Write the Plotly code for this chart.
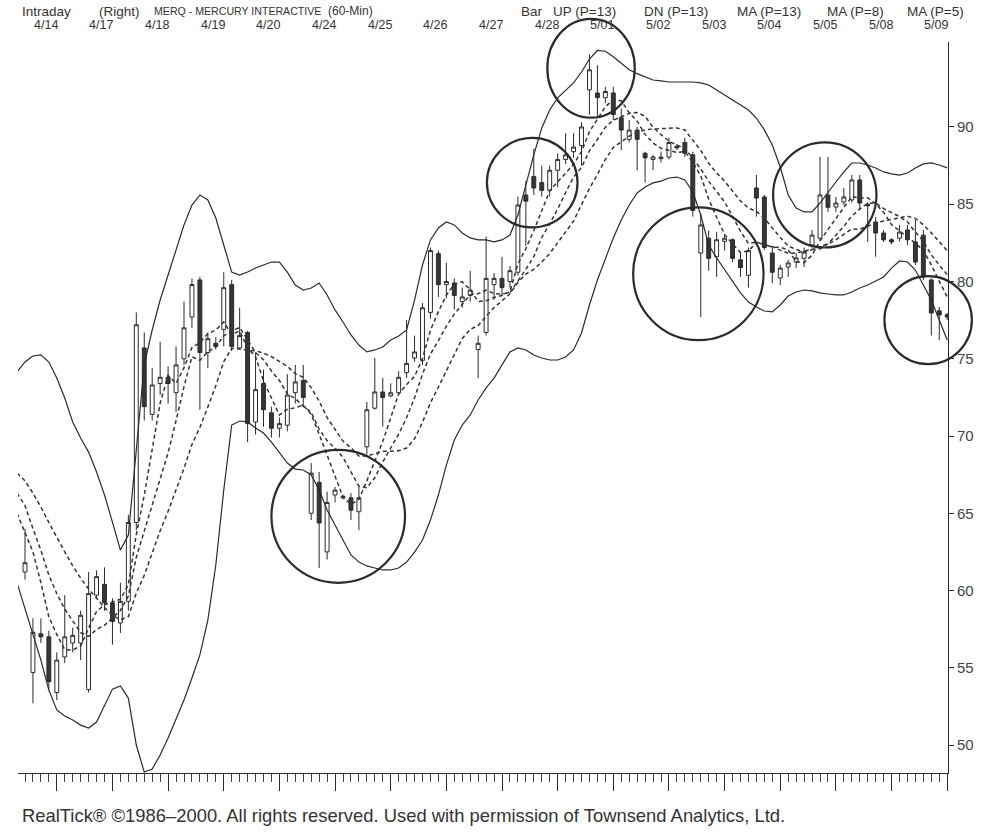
import plotly.graph_objects as go

# ---------------- data ----------------
bars = list(range(117))
opens = [61.2, 54.7, 57.2, 57.0, 53.4, 55.7, 56.6, 56.6, 53.6, 59.7,
         60.4, 59.2, 57.9, 59.3, 64.4, 75.7, 71.4, 73.4, 73.8, 72.8,
         75.0, 77.7, 80.1, 75.4, 76.0, 76.9, 79.8, 75.7, 76.7, 70.9,
         73.4, 71.5, 70.5, 70.7, 72.8, 73.6, 65.0, 67.0, 62.5, 66.18,
         66.0, 66.0, 65.1, 69.3, 71.8, 72.85, 72.6, 72.8, 74.1, 75.05,
         74.9, 78.0, 81.8, 79.8, 79.9, 78.7, 79.1, 75.6, 76.7, 79.8,
         80.2, 80.0, 80.6, 85.6, 86.8, 86.4, 85.9, 87.2, 87.9, 88.4,
         88.8, 92.4, 92.2, 91.9, 92.2, 90.6, 89.2, 89.8, 88.3, 87.9,
         87.95, 88.06, 88.75, 89.0, 88.2, 81.84, 82.8, 81.6, 82.6, 82.7,
         81.4, 80.4, 86.05, 85.47, 81.84, 80.23, 80.94, 81.26, 81.5, 82.36,
         82.8, 85.6, 84.82, 85.15, 85.28, 86.57, 85.0, 83.85, 83.14, 82.7,
         82.8, 83.33, 82.56, 83.0, 80.1, 78.1, 77.85]
highs = [64.0, 58.2, 58.2, 57.4, 56.0, 59.7, 57.6, 58.7, 61.2, 61.3,
         61.5, 59.5, 60.5, 64.9, 78.0, 76.7, 74.4, 76.1, 74.5, 75.8,
         78.7, 80.2, 80.3, 76.7, 76.4, 80.6, 80.1, 78.3, 76.8, 75.4,
         74.3, 71.9, 71.2, 74.0, 74.6, 74.6, 68.25, 67.67, 66.4, 66.7,
         66.2, 66.3, 66.7, 72.2, 75.05, 73.75, 73.4, 74.2, 77.5, 76.5,
         78.6, 82.2, 82.0, 81.2, 80.2, 79.6, 80.7, 76.5, 82.9, 80.55,
         81.6, 81.0, 85.5, 86.5, 88.6, 87.5, 87.5, 88.3, 89.6, 89.6,
         90.3, 94.7, 94.0, 92.6, 92.6, 91.2, 90.45, 90.0, 88.4, 88.2,
         88.4, 89.3, 88.9, 89.3, 88.4, 84.4, 83.3, 83.2, 83.0, 82.8,
         81.9, 82.2, 86.9, 85.6, 82.2, 81.07, 81.4, 81.84, 82.2, 83.33,
         88.06, 88.06, 85.47, 86.05, 86.9, 86.9, 85.15, 84.17, 83.33, 82.8,
         83.66, 83.66, 84.0, 83.33, 80.2, 78.35, 77.96]
lows = [60.7, 52.7, 56.6, 53.6, 52.9, 55.3, 56.0, 55.5, 53.4, 59.5,
        58.7, 56.5, 57.25, 58.7, 63.9, 71.0, 71.0, 72.65, 72.1, 71.55,
        74.6, 77.0, 71.7, 74.4, 75.6, 75.8, 75.5, 75.6, 69.6, 70.1,
        70.6, 69.9, 69.9, 70.3, 72.1, 71.9, 64.56, 61.45, 62.0, 65.7,
        65.9, 64.56, 63.9, 68.8, 71.7, 70.6, 72.5, 72.6, 73.75, 74.8,
        74.6, 77.6, 79.0, 78.9, 78.2, 78.3, 78.7, 73.75, 76.5, 78.8,
        79.1, 79.6, 80.4, 82.3, 85.6, 85.5, 85.5, 86.1, 87.6, 88.0,
        87.5, 90.8, 90.6, 91.55, 90.45, 88.5, 89.0, 87.2, 86.4, 87.2,
        87.7, 87.9, 88.5, 88.06, 84.2, 77.7, 80.7, 80.3, 82.0, 81.26,
        80.3, 79.6, 84.2, 82.04, 79.9, 79.77, 80.3, 80.87, 80.94, 82.2,
        82.7, 84.5, 84.5, 84.95, 85.1, 84.63, 82.56, 81.6, 82.56, 82.4,
        82.6, 82.36, 81.07, 80.1, 76.5, 76.2, 77.5]
closes = [61.8, 57.3, 57.0, 54.1, 55.5, 57.0, 57.1, 58.4, 59.8, 60.9,
          59.2, 58.0, 59.3, 64.4, 77.2, 71.9, 73.3, 73.8, 73.4, 74.6,
          77.0, 79.8, 75.4, 76.3, 75.8, 79.6, 75.8, 76.5, 70.8, 73.0,
          71.7, 70.5, 70.8, 72.65, 73.5, 72.5, 67.6, 64.37, 65.7, 66.5,
          66.1, 65.2, 66.0, 71.7, 72.85, 72.5, 72.8, 73.8, 74.7, 75.44,
          78.3, 82.0, 79.8, 80.0, 79.1, 79.0, 79.45, 76.0, 80.2, 80.2,
          79.6, 80.7, 84.95, 85.2, 86.05, 85.9, 87.2, 87.9, 88.2, 88.7,
          90.0, 93.7, 91.9, 92.3, 90.8, 89.8, 89.8, 89.2, 88.0, 88.06,
          88.05, 89.0, 88.65, 88.3, 84.6, 83.66, 81.5, 82.7, 82.8, 81.5,
          80.9, 82.0, 85.4, 82.2, 80.6, 80.87, 81.2, 81.52, 81.9, 83.0,
          85.6, 84.8, 85.08, 85.47, 86.57, 85.08, 84.9, 83.14, 82.7, 82.56,
          83.2, 82.7, 81.26, 80.3, 77.96, 77.83, 77.7]

ind_bars = list(range(-1, 117))
up_band = [74.14, 74.79, 75.18, 75.25, 74.79, 73.75, 72.46, 70.91, 69.87, 68.96,
           67.67, 66.18, 64.43, 62.62, 63.59, 69.09, 74.60, 76.86, 78.80, 80.42,
           82.04, 83.66, 84.95, 85.60, 85.28, 84.11, 82.36, 80.61, 80.42, 80.61,
           80.87, 81.07, 81.26, 81.26, 80.61, 79.77, 79.45, 79.58, 79.90, 79.13,
           78.16, 77.38, 76.54, 75.89, 75.44, 75.57, 75.76, 76.21, 76.47, 76.86,
           78.80, 81.07, 82.69, 83.46, 83.85, 83.66, 83.14, 82.82, 82.69, 82.69,
           82.56, 82.69, 83.01, 84.30, 86.25, 88.19, 89.94, 91.10, 91.88, 92.39,
           92.85, 93.56, 94.40, 94.95, 94.90, 94.55, 94.10, 93.70, 93.45, 93.24,
           93.04, 92.98, 92.91, 92.91, 92.91, 92.91, 92.85, 92.72, 92.39, 92.07,
           91.75, 91.42, 91.10, 90.58, 89.81, 88.83, 87.41, 85.60, 84.76, 84.50,
           84.50, 85.08, 85.79, 86.44, 87.09, 87.67, 87.67, 87.54, 87.35, 87.09,
           86.96, 86.89, 87.02, 87.35, 87.61, 87.67, 87.54, 87.35]
dn_band = [60.49, 58.87, 57.25, 55.50, 53.56, 52.27, 51.88, 51.62, 51.29, 51.10,
           51.49, 52.59, 53.62, 53.82, 53.04, 50.00, 48.25, 48.45, 49.35, 50.45,
           51.62, 52.91, 54.34, 55.83, 58.09, 61.65, 66.50, 70.71, 70.97, 70.91,
           70.52, 70.19, 69.61, 68.96, 68.25, 67.86, 67.80, 67.48, 66.50, 65.21,
           64.24, 63.27, 62.30, 61.84, 61.59, 61.46, 61.33, 61.33, 61.46, 61.84,
           62.49, 63.27, 64.56, 66.18, 68.12, 69.74, 70.71, 71.36, 72.33, 73.11,
           73.75, 74.60, 75.44, 75.70, 75.57, 75.24, 75.05, 74.92, 74.92, 75.11,
           75.57, 76.67, 78.48, 80.10, 81.52, 82.82, 83.98, 84.95, 85.73, 86.12,
           86.38, 86.50, 86.70, 86.76, 86.57, 85.79, 84.30, 82.36, 81.52, 80.74,
           79.97, 79.26, 78.67, 78.35, 78.09, 78.03, 78.48, 79.06, 79.32, 79.45,
           79.39, 79.26, 79.19, 79.13, 79.13, 79.32, 79.58, 79.77, 80.03, 80.29,
           80.87, 81.33, 81.26, 80.74, 79.77, 78.80, 77.51, 76.21]
ma13 = [67.6, 67.1, 66.3, 65.4, 64.4, 63.4, 62.5, 61.6, 60.8, 60.1, 59.5, 58.9, 58.4,
        58.11, 58.31, 59.84, 60.98, 62.46, 63.87, 65.13, 66.48, 67.91, 69.45,
        70.56, 71.88, 73.25, 74.81, 75.68, 75.63, 75.55, 75.52, 75.36, 75.14,
        74.85, 74.51, 74.03, 73.80, 73.13, 72.26, 71.19, 70.47, 69.67, 69.24,
        68.70, 68.70, 68.88, 69.01, 69.02, 69.05, 69.22, 69.82, 70.89, 72.15,
        73.17, 74.24, 75.31, 76.31, 76.90, 77.15, 77.74, 78.31, 78.75, 79.21,
        79.95, 80.48, 80.79, 81.26, 81.81, 82.49, 83.20, 83.91, 84.98, 86.02,
        86.92, 87.90, 88.68, 89.05, 89.40, 89.65, 89.81, 89.87, 89.89, 89.95,
        89.94, 89.81, 89.11, 88.48, 87.65, 87.02, 86.49, 85.85, 85.21, 84.75,
        84.54, 84.09, 83.45, 82.85, 82.30, 82.07, 81.93, 82.05, 82.27, 82.42,
        82.70, 83.05, 83.40, 83.38, 83.58, 83.78, 83.92, 84.02, 84.15, 84.22,
        84.08, 83.67, 83.15, 82.59, 81.99]
ma8 = [66.3, 65.5, 64.0, 62.6, 61.0, 59.8, 58.8, 58.0,
       57.28, 57.03, 57.48, 57.75, 58.24, 58.71, 59.64, 62.15, 63.84, 65.53,
       67.14, 68.91, 70.99, 73.20, 75.13, 74.90, 75.45, 75.76, 76.49, 76.79,
       77.03, 76.25, 75.40, 74.94, 74.21, 73.59, 72.72, 72.43, 71.93, 71.53,
       70.45, 69.70, 69.20, 68.62, 67.68, 66.75, 66.65, 67.30, 68.32, 69.21,
       70.12, 71.19, 72.47, 74.01, 75.30, 76.17, 77.11, 77.89, 78.54, 79.14,
       79.21, 79.44, 79.22, 79.19, 79.28, 80.01, 80.79, 81.61, 82.85, 83.73,
       84.69, 85.76, 86.76, 87.39, 88.46, 89.19, 89.99, 90.44, 90.68, 90.88,
       90.94, 90.69, 89.98, 89.50, 89.09, 88.82, 88.63, 87.98, 87.29, 86.48,
       85.81, 85.15, 84.21, 83.25, 82.46, 82.56, 82.38, 82.26, 82.03, 81.83,
       81.84, 81.96, 82.09, 82.11, 82.44, 83.00, 83.57, 84.24, 84.69, 85.06,
       85.08, 84.72, 84.44, 84.20, 83.86, 83.19, 82.60, 81.73, 81.06, 80.44]
ma5 = [65.0, 63.8, 62.5, 60.5, 58.3,
       57.14, 56.18, 56.14, 56.42, 57.56, 58.64, 59.08, 59.26, 59.44, 60.36,
       63.62, 66.16, 69.22, 72.12, 73.92, 73.40, 74.42, 75.72, 76.04, 76.62,
       76.86, 77.38, 76.58, 76.80, 75.70, 75.14, 73.56, 72.50, 71.36, 71.73,
       71.83, 71.99, 71.41, 70.12, 68.73, 67.33, 66.05, 65.57, 65.90, 67.10,
       68.37, 69.65, 71.17, 72.73, 73.33, 73.85, 75.01, 76.85, 78.05, 79.11,
       79.84, 79.98, 79.47, 78.71, 78.75, 78.97, 79.09, 79.34, 81.13, 82.13,
       83.30, 84.56, 85.86, 86.45, 87.05, 87.58, 88.40, 89.70, 90.50, 91.32,
       91.74, 91.70, 90.92, 90.38, 89.52, 88.97, 88.62, 88.46, 88.35, 88.41,
       87.72, 86.84, 85.34, 84.15, 83.05, 82.43, 81.88, 81.98, 82.52, 82.40,
       82.22, 82.21, 82.05, 81.28, 81.22, 81.70, 82.64, 83.36, 84.08, 84.79,
       85.50, 85.40, 85.42, 85.03, 84.48, 83.68, 83.30, 82.86, 82.48, 82.00,
       81.08, 80.01, 79.01]

date_labels = ["4/14", "4/17", "4/18", "4/19", "4/20", "4/24", "4/25", "4/26", "4/27",
               "4/28", "5/01", "5/02", "5/03", "5/04", "5/05", "5/08", "5/09"]
day_mark_bars = [4, 11, 18, 25, 32, 39, 46, 53, 60, 67, 74, 81, 88, 95, 102, 109, 116]
y_ticks = [50, 55, 60, 65, 70, 75, 80, 85, 90]

# circles drawn on the chart: (centre bar, centre price, radius in bars, radius in price)
circles = [(39.4, 64.8, 8.4, 4.3),
           (63.8, 86.4, 5.7, 2.9),
           (71.2, 93.8, 5.5, 3.2),
           (84.7, 80.5, 8.2, 4.3),
           (100.6, 85.6, 6.5, 3.4),
           (113.6, 77.5, 5.5, 2.85)]

# ---------------- figure ----------------
X_RANGE = [-0.88, 116.1]
Y_RANGE = [48.19, 95.5]
W, H = 988, 835
ML, MR, MT, MB = 18, 40, 42, 62
PW, PH = W - ML - MR, H - MT - MB

def px_x(page_x):
    return (page_x - ML) / PW

def px_y(page_y):
    return (H - MB - page_y) / PH

def dx(k):
    return (k - X_RANGE[0]) / (X_RANGE[1] - X_RANGE[0])

def dy(p):
    return (p - Y_RANGE[0]) / (Y_RANGE[1] - Y_RANGE[0])

INK = "#2b2b2b"
fig = go.Figure()
for vals in (up_band, dn_band):
    fig.add_trace(go.Scatter(x=ind_bars, y=vals, mode="lines",
                             line=dict(color=INK, width=1.2),
                             hoverinfo="skip", showlegend=False))
for vals in (ma13, ma8, ma5):
    fig.add_trace(go.Scatter(x=ind_bars, y=vals, mode="lines",
                             line=dict(color="#353535", width=1.5, dash="4px,3px"),
                             hoverinfo="skip", showlegend=False))
fig.add_trace(go.Candlestick(
    x=bars, open=opens, high=highs, low=lows, close=closes,
    increasing=dict(line=dict(color=INK, width=1), fillcolor="#ffffff"),
    decreasing=dict(line=dict(color=INK, width=1), fillcolor="#363636"),
    whiskerwidth=0, showlegend=False))

shapes = []
for ck, cp, rk, rp in circles:
    shapes.append(dict(type="circle", xref="paper", yref="paper",
                       x0=dx(ck - rk), x1=dx(ck + rk), y0=dy(cp - rp), y1=dy(cp + rp),
                       line=dict(color=INK, width=2.2), layer="above"))

FAM = "Liberation Sans, Arial, sans-serif"
annotations = []
header = [("Intraday", 20, 13.5), ("(Right)", 97, 13.5),
          ("MERQ - MERCURY INTERACTIVE", 152, 10.6), ("(60-Min)", 326, 12.0),
          ("Bar", 519, 13.5), ("UP (P=13)", 551, 13.5), ("DN (P=13)", 642, 13.5),
          ("MA (P=13)", 735, 13.5), ("MA (P=8)", 825, 13.5), ("MA (P=5)", 905, 13.5)]
for txt, x, sz in header:
    annotations.append(dict(text=txt, x=px_x(x), y=px_y(11), xref="paper", yref="paper",
                            xanchor="left", yanchor="middle", showarrow=False,
                            font=dict(family=FAM, size=sz, color="#333333")))
for lab, b in zip(date_labels, day_mark_bars):
    annotations.append(dict(text=lab, x=b, y=px_y(25), xref="x", yref="paper",
                            xanchor="right", yanchor="middle", xshift=3,
                            showarrow=False, font=dict(family=FAM, size=12.5, color="#333333")))
annotations.append(dict(
    text="RealTick\u00ae \u00a91986\u20132000. All rights reserved. Used with permission of Townsend Analytics, Ltd.",
    x=px_x(20), y=px_y(815), xref="paper", yref="paper", xanchor="left", yanchor="middle",
    showarrow=False, font=dict(family=FAM, size=18.4, color="#333333")))

fig.update_layout(
    width=W, height=H, margin=dict(l=ML, r=MR, t=MT, b=MB, pad=0),
    paper_bgcolor="white", plot_bgcolor="white",
    shapes=shapes, annotations=annotations, showlegend=False,
    xaxis=dict(range=X_RANGE, showgrid=False, zeroline=False, showline=True,
               linecolor=INK, linewidth=1, ticks="outside", tickmode="linear",
               tick0=4, dtick=7, ticklen=17, tickwidth=1, tickcolor=INK,
               showticklabels=False, rangeslider=dict(visible=False),
               minor=dict(ticks="outside", tickmode="linear", tick0=0, dtick=1,
                          ticklen=8, tickwidth=1, tickcolor="#444444", showgrid=False)),
    yaxis=dict(range=Y_RANGE, side="right", showgrid=False, zeroline=False,
               showline=True, linecolor=INK, linewidth=1, ticks="outside",
               ticklen=5, tickcolor=INK, tickmode="array", tickvals=y_ticks,
               tickfont=dict(family=FAM, size=15, color="#444444")),
)

# remove the default 8px page margin so the figure sits at the window's top-left corner
fig.write_html("out.html",
               config={"displayModeBar": False, "staticPlot": True},
               post_script="document.body.style.margin='0';document.body.style.overflow='hidden';")
